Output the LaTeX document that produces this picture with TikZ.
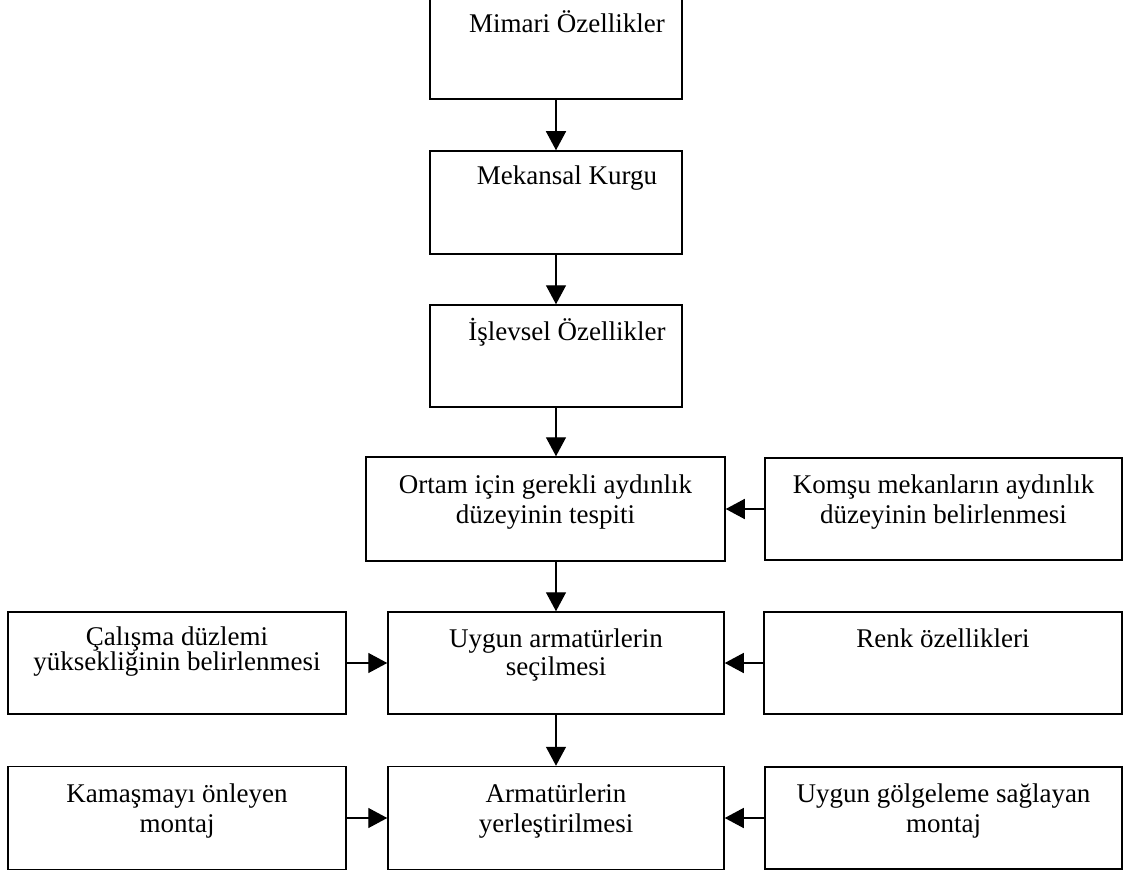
\documentclass[tikz,border=0pt]{standalone}
\usepackage{fontspec}
\setmainfont{Liberation Serif}
\usetikzlibrary{arrows.meta}
\begin{document}
\begin{tikzpicture}[x=1pt,y=-1pt,
  box/.style={draw=black,line width=1.5pt,rectangle,inner sep=0pt,fill=white},
  txt/.style={inner sep=0pt,align=center,font=\fontsize{27}{30}\selectfont,text=black},
  conn/.style={line width=1.4pt,-{Triangle[length=19pt,width=20pt]}}]
\useasboundingbox (0,0) rectangle (1128,872);
\begin{scope}
\clip (0,0) rectangle (1128,872);
% boxes
\node[box,minimum width=252pt,minimum height=103pt] (mim) at (556,47.5) {};
\node[box,minimum width=252pt,minimum height=103pt] (mek) at (556,202.5) {};
\node[box,minimum width=252pt,minimum height=102pt] (isl) at (556,356) {};
\node[box,minimum width=359pt,minimum height=104pt] (ort) at (545.5,509) {};
\node[box,minimum width=357pt,minimum height=102pt] (kom) at (943.5,509) {};
\node[box,minimum width=338pt,minimum height=102pt] (cal) at (177,663) {};
\node[box,minimum width=336pt,minimum height=102pt] (uyg) at (556,663) {};
\node[box,minimum width=358pt,minimum height=102pt] (renk) at (943,663) {};
\node[box,minimum width=338pt,minimum height=103pt] (kam) at (177,818) {};
\node[box,minimum width=336pt,minimum height=103pt] (arm) at (556,818) {};
\node[box,minimum width=357pt,minimum height=102pt] (golg) at (943.5,818) {};
\end{scope}
% texts (base anchor = baseline of the last line)
\node[txt,anchor=base] (mimT) at (567,33) {Mimari Özellikler};
\node[txt,anchor=base] (mekT) at (567,185) {Mekansal Kurgu};
\node[txt,anchor=base] (islT) at (567,340) {İşlevsel Özellikler};
\node[txt,anchor=base] (ortT) at (545.5,523) {Ortam için gerekli aydınlık\\düzeyinin tespiti};
\node[txt,anchor=base] (komT) at (943.5,523) {Komşu mekanların aydınlık\\düzeyinin belirlenmesi};
\node[txt,anchor=base,font=\fontsize{27}{25}\selectfont] (calT) at (177,670) {Çalışma düzlemi\\yüksekliğinin belirlenmesi};
\node[txt,anchor=base,font=\fontsize{27}{28}\selectfont] (uygT) at (556,675) {Uygun armatürlerin\\seçilmesi};
\node[txt,anchor=base] (renkT) at (943,647) {Renk özellikleri};
\node[txt,anchor=base] (kamT) at (177,832) {Kamaşmayı önleyen\\montaj};
\node[txt,anchor=base] (armT) at (556,832) {Armatürlerin\\yerleştirilmesi};
\node[txt,anchor=base] (golgT) at (943.5,832) {Uygun gölgeleme sağlayan\\montaj};
% connectors
\draw[conn] (mim.south) -- (mek.north);
\draw[conn] (mek.south) -- (isl.north);
\draw[conn] (isl.south) -- (ort.north -| isl.south);
\draw[conn] (ort.south -| uyg.north) -- (uyg.north);
\draw[conn] (uyg.south) -- (arm.north);
\draw[conn] (kom.west) -- (ort.east);
\draw[conn] (cal.east) -- (uyg.west);
\draw[conn] (renk.west) -- (uyg.east);
\draw[conn] (kam.east) -- (arm.west);
\draw[conn] (golg.west) -- (arm.east);
\end{tikzpicture}
\end{document}
